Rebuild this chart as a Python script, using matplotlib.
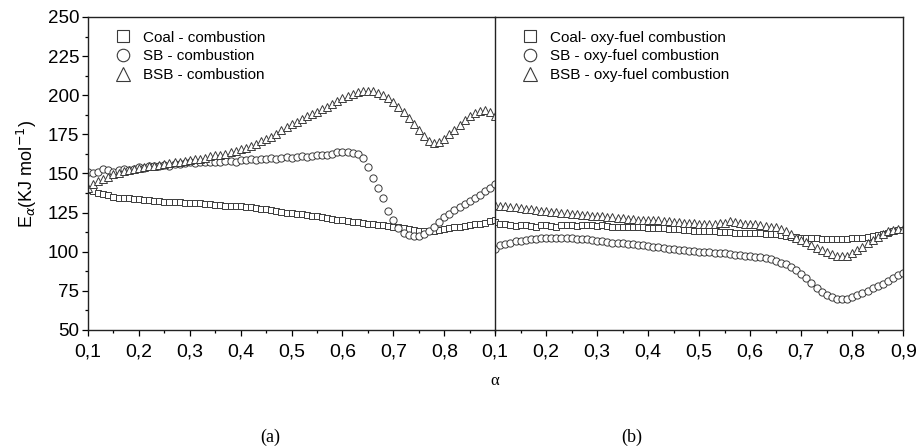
import matplotlib.pyplot as plt
import numpy as np
from matplotlib.ticker import MultipleLocator
from matplotlib.lines import Line2D

plt.rcParams['font.family'] = ['Liberation Sans', 'DejaVu Sans']

# conversion degree, 0.10 ... 0.90 step 0.01
alpha = np.round(np.arange(0.10, 0.905, 0.01), 2)

# (a) combustion
coal_comb = [139.5, 138.5, 137.5, 137, 136, 135, 134.5, 134, 134, 133.5,
             133.5, 133, 133, 132.5, 132.5, 132, 132, 131.5, 131.5, 131,
             131, 131, 131, 130.5, 130.5, 130, 130, 129.5, 129.5, 129,
             129, 128.5, 128.5, 128, 127.5, 127, 126.5, 126, 125.5, 125,
             124.7, 124.3, 124, 123.5, 123, 122.5, 122, 121.5, 121, 120.5,
             120, 119.5, 119.2, 119, 118.5, 118, 117.7, 117.3, 117, 116.5,
             116, 115.5, 115, 114.5, 114, 113.5, 113, 113, 113.5, 114,
             114.5, 115, 115.5, 116, 116.5, 117, 117.5, 118, 118.5, 119.5,
             120]
sb_comb = [151, 150, 151, 153, 152, 151, 152, 153, 152.5, 153,
           154, 153.5, 154.5, 155, 155, 155.5, 155, 156, 156, 156.5,
           157, 156.5, 157, 157.5, 157, 157, 157.5, 158, 158, 157.5,
           158.5, 158.5, 159, 158.5, 159, 159.5, 160, 159.5, 160, 160.5,
           160, 160.5, 161, 160.5, 161, 161.5, 162, 162, 162.5, 163.5,
           164, 163.5, 163, 162.5, 160, 154, 147, 141, 134, 126,
           120, 115, 112, 110.5, 110, 110, 111, 113, 116, 119,
           122, 124, 126.5, 128.5, 130.5, 132.5, 134.5, 136.5, 138.5, 141,
           143]
bsb_comb = [141, 143, 145, 146.5, 148, 149.5, 150.5, 151.5, 152.5, 153,
            153.5, 154, 154.5, 155, 155.5, 156, 156.5, 157, 157.5, 158,
            158.5, 159, 159.5, 160, 161, 161.5, 162, 162.5, 163.5, 164.5,
            165.5, 166.5, 167.5, 169, 170.5, 172, 173.5, 175.5, 177.5, 179.5,
            181.5, 183, 185, 186.5, 188, 189.5, 191, 192.5, 194.5, 196.5,
            198, 199.5, 201, 202, 203, 203, 202.5, 201.5, 200, 198,
            195.5, 192.5, 189, 185.5, 181.5, 177.5, 174, 171, 169.5, 170,
            172, 175, 178, 181, 184, 186.5, 188.5, 190, 190.5, 189.5,
            187]

# (b) oxy-fuel combustion
coal_oxy = [119, 118, 117.5, 117, 116.5, 117, 117, 116.5, 116, 117,
            117, 116.5, 116, 117, 117, 117, 116.5, 117, 117, 117,
            116.5, 117, 116.5, 116, 116, 116, 116, 115.5, 115.5, 115.5,
            115, 115, 115, 115, 114.5, 114.5, 114.5, 114, 114, 113.5,
            113.5, 113, 113, 113, 112.5, 112.5, 112.5, 112, 112, 112,
            112, 112, 112, 111.5, 111, 111, 110.5, 110, 109.5, 109.5,
            109, 108.5, 108.5, 108.5, 108, 108, 108, 108, 108, 108,
            108.5, 108.5, 109, 109.5, 110, 110.5, 111, 112, 113, 114,
            114]
sb_oxy = [102, 104, 105, 105.8, 106.5, 107, 107.5, 108, 108, 108.5,
          108.5, 108.8, 108.8, 108.5, 108.5, 108.5, 108.2, 108, 107.8, 107.5,
          107, 106.5, 106, 105.8, 105.5, 105.3, 105, 104.8, 104.5, 104,
          103.5, 103, 102.8, 102.5, 102, 101.5, 101, 100.8, 100.5, 100.2,
          100, 99.8, 99.5, 99.3, 99, 99, 98.5, 98, 97.8, 97.5,
          97, 96.8, 96.5, 96, 95, 94, 93, 92, 90, 88,
          85.5, 83, 80, 77, 74.5, 72.5, 71, 70, 69.5, 70,
          71, 72, 73.5, 75, 76.5, 78, 79.5, 81, 83, 85,
          86.5]
bsb_oxy = [130, 129.5, 129, 128.5, 128.5, 128, 127.5, 127, 126.5, 126,
           126, 125.5, 125.5, 125, 124.5, 124, 124, 123.5, 123.5, 123,
           123, 122.5, 122, 122, 121.5, 121.5, 121, 121, 120.5, 120.5,
           120, 120, 120, 119.5, 119.5, 119, 119, 118.5, 118.5, 118.5,
           118, 118, 118, 118, 118.5, 118.5, 119.5, 119, 118.5, 118,
           117.5, 117.5, 117, 116.5, 116, 115.5, 114.5, 113, 111, 109,
           107.5, 106, 104, 102.5, 101, 99.5, 98.5, 97.5, 97, 97.5,
           99, 101, 103, 105.5, 107.5, 109.5, 111.5, 113, 114, 114.5,
           114.5]

labels_a = ['Coal - combustion', 'SB - combustion', 'BSB - combustion']
labels_b = ['Coal- oxy-fuel combustion', 'SB - oxy-fuel combustion', 'BSB - oxy-fuel combustion']
markers = ['s', 'o', '^']
msizes = [4.6, 5.2, 6.0]
leg_sizes = [8.5, 9.0, 10.5]
edge = '#3a3a3a'

fig = plt.figure(figsize=(9.17, 4.47), dpi=100)
ax1 = fig.add_axes([0.096, 0.262, 0.444, 0.700])
ax2 = fig.add_axes([0.540, 0.262, 0.445, 0.700], sharey=ax1)
ax2.patch.set_alpha(0.0)

panels = [(ax1, [coal_comb, sb_comb, bsb_comb], labels_a),
          (ax2, [coal_oxy, sb_oxy, bsb_oxy], labels_b)]
for ax, series, labels in panels:
    handles = []
    for ys, m, ms, lms, lab in zip(series, markers, msizes, leg_sizes, labels):
        ax.plot(alpha, ys, linestyle='none', marker=m, markersize=ms,
                markerfacecolor='white', markeredgecolor=edge,
                markeredgewidth=0.7, label=lab)
        handles.append(Line2D([], [], linestyle='none', marker=m, markersize=lms,
                              markerfacecolor='white', markeredgecolor=edge,
                              markeredgewidth=0.8))
    ax.legend(handles, labels, loc='upper left', bbox_to_anchor=(0.045, 0.985),
              frameon=False, fontsize=11, handletextpad=0.8, labelspacing=0.3,
              handlelength=1.0, borderaxespad=0.2)
    ax.set_xlim(0.1, 0.9)
    ax.xaxis.set_major_locator(MultipleLocator(0.1))
    ax.xaxis.set_minor_locator(MultipleLocator(0.05))
    ax.tick_params(axis='both', which='both', direction='out', width=0.9)
    ax.tick_params(axis='both', which='major', length=4.5)
    ax.tick_params(axis='both', which='minor', length=2.5)
    for sp in ax.spines.values():
        sp.set_linewidth(1.0)
        sp.set_color('#222222')

ax1.set_ylim(50, 250)
ax1.yaxis.set_major_locator(MultipleLocator(25))
ax1.yaxis.set_minor_locator(MultipleLocator(12.5))
ax1.set_yticks(np.arange(50, 251, 25))
ax1.tick_params(axis='y', labelsize=13.5, pad=2)
ax1.set_ylabel(r'E$_{\alpha}$(KJ mol$^{-1}$)', fontsize=13, labelpad=6)

# x tick labels, comma decimal
narrow = ['Liberation Sans Narrow', 'Liberation Sans']
xt = np.round(np.arange(0.1, 0.85, 0.1), 1)
ax1.set_xticks(xt)
ax1.set_xticklabels([f'{v:.1f}'.replace('.', ',') for v in xt], family=narrow, fontsize=14)
xt2 = np.round(np.arange(0.1, 0.95, 0.1), 1)
ax2.set_xticks(xt2)
ax2.set_xticklabels([f'{v:.1f}'.replace('.', ',') for v in xt2], family=narrow, fontsize=14)
ax1.tick_params(axis='x', pad=5)
ax2.tick_params(axis='x', pad=5)
ax2.tick_params(axis='y', which='both', left=False, labelleft=False)
ax1.spines['right'].set_visible(False)

serif = ['Liberation Serif', 'DejaVu Serif']
fig.text(0.540, 0.148, 'α', ha='center', va='center', fontsize=12, family=serif)
fig.text(0.295, 0.022, '(a)', ha='center', va='center', fontsize=13, family=serif)
fig.text(0.689, 0.022, '(b)', ha='center', va='center', fontsize=13, family=serif)

fig.savefig('out.png', dpi=100)
